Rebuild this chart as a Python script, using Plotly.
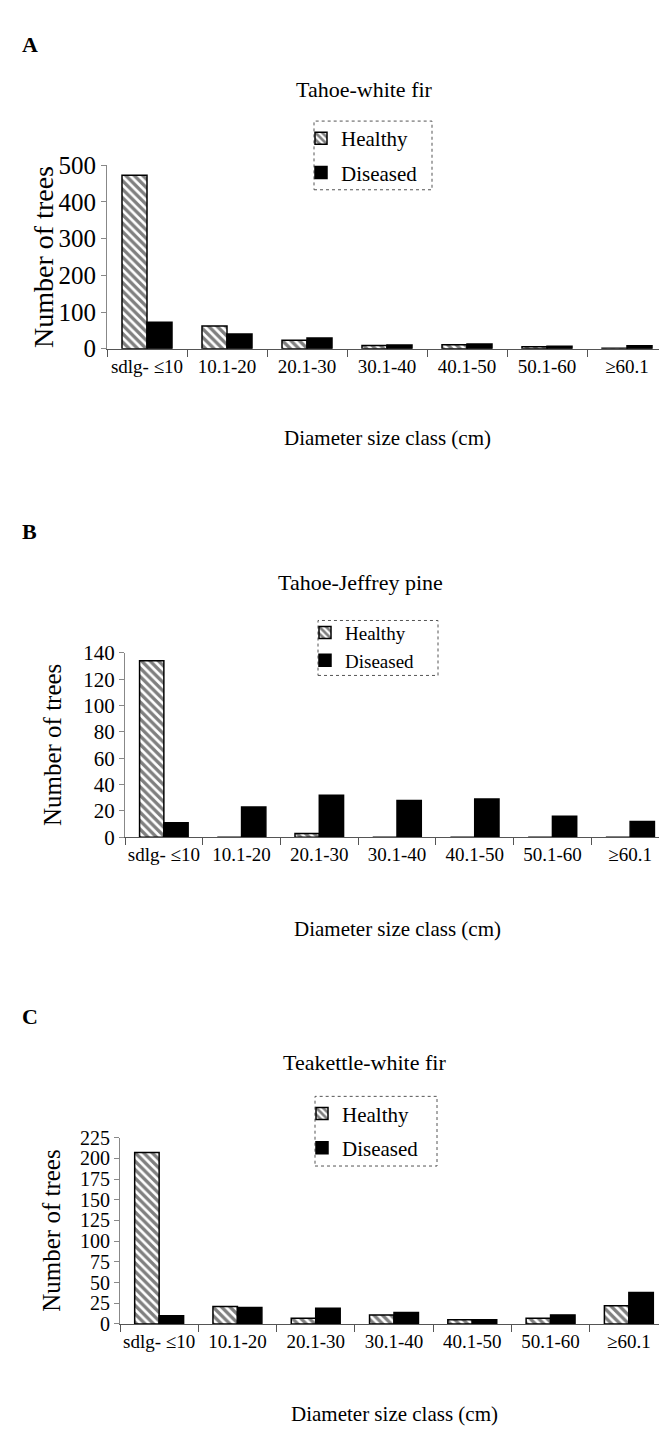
import plotly.graph_objects as go

categories = ["sdlg- ≤10", "10.1-20", "20.1-30", "30.1-40", "40.1-50", "50.1-60", "≥60.1"]

a_healthy = [473, 62, 23, 9, 11, 5, 1]
a_diseased = [72, 40, 29, 10, 13, 7, 8]

b_healthy = [134, 0, 3, 0, 0, 0, 0]
b_diseased = [11, 23, 32, 28, 29, 16, 12]

c_healthy = [207, 21, 7, 11, 5, 7, 22]
c_diseased = [10, 20, 19, 14, 5, 11, 38]

panel_letters = ["A", "B", "C"]
panel_titles = ["Tahoe-white fir", "Tahoe-Jeffrey pine", "Teakettle-white fir"]
y_ticks = [list(range(0, 501, 100)), list(range(0, 141, 20)), list(range(0, 226, 25))]
y_ranges = [[0, 500], [0, 140], [0, 225]]

W, H = 667, 1434
FONT = "Liberation Serif"

# pixel layout of each panel: (x0, x1, ytop, ybottom)
boxes = [(99, 659, 147, 334), (117, 661, 644, 832), (112, 660, 1138, 1328)]
letter_y = [24, 520, 1015]
title_y = [70, 572, 1061]
title_x = [356, 352, 356]
xtitle_y = [425, 925, 1420]
ytitle_x = [36, 44, 44]
ytitle_size = [28, 25, 25]
ytick_size = [25, 21, 20]
legend_box = [(306, 102, 424, 172), (310, 611, 430, 667), (307, 1096, 429, 1167)]
legend_top = [99, 604, 1093]
legend_font = [21, 19, 21]
legend_gap = [4, 0, 4]

fig = go.Figure()
data = [(a_healthy, a_diseased), (b_healthy, b_diseased), (c_healthy, c_diseased)]

for i, (hv, dv) in enumerate(data):
    n = "" if i == 0 else str(i + 1)
    leg = "legend" if i == 0 else "legend" + str(i + 1)
    fig.add_trace(go.Bar(
        x=categories, y=hv, name="Healthy", xaxis="x" + n, yaxis="y" + n, legend=leg,
        legendgroup="h" + n,
        marker=dict(color="white", line=dict(color="black", width=1.5),
                    pattern=dict(shape="\\", fgcolor="black", bgcolor="white", size=6, solidity=0.55)),
    ))
    fig.add_trace(go.Bar(
        x=categories, y=dv, name="Diseased", xaxis="x" + n, yaxis="y" + n, legend=leg,
        legendgroup="d" + n,
        marker=dict(color="black", line=dict(color="black", width=1.5)),
    ))

layout = dict(
    width=W, height=H, margin=dict(l=0, r=0, t=0, b=0),
    paper_bgcolor="white", plot_bgcolor="white",
    barmode="group", bargap=0.375, bargroupgap=0,
    font=dict(family=FONT, color="black", size=18),
    annotations=[], shapes=[],
)

for i in range(3):
    n = "" if i == 0 else str(i + 1)
    x0, x1, yt, yb = boxes[i]
    layout["xaxis" + n] = dict(
        domain=[x0 / W, x1 / W], anchor="y" + n, type="category",
        range=[-0.5, 6.5], showline=True, linecolor="#555", linewidth=1.2,
        ticks="outside", tickson="boundaries", ticklen=7, tickcolor="#555",
        tickangle=0, tickfont=dict(size=19, family=FONT), showgrid=False, fixedrange=True,
    )
    layout["yaxis" + n] = dict(
        domain=[1 - yb / H, 1 - yt / H], anchor="x" + n,
        range=y_ranges[i], tickvals=y_ticks[i], showline=True, linecolor="#888",
        linewidth=1, ticks="outside", ticklen=5, tickcolor="#888",
        tickfont=dict(size=ytick_size[i], family=FONT), showgrid=False, zeroline=False,
        fixedrange=True,
    )
    bx0, by0, bx1, by1 = legend_box[i]
    layout["legend" if i == 0 else "legend" + str(i + 1)] = dict(
        x=(bx0 - 13) / W, y=1 - legend_top[i] / H, xanchor="left", yanchor="top",
        borderwidth=0, bgcolor="rgba(0,0,0,0)", traceorder="grouped",
        font=dict(size=legend_font[i], family=FONT), tracegroupgap=legend_gap[i], itemwidth=30,
    )
    layout["shapes"].append(dict(type="rect", xref="paper", yref="paper",
                                 x0=bx0 / W, x1=bx1 / W, y0=1 - by1 / H, y1=1 - by0 / H,
                                 line=dict(color="#555", width=1, dash="dot"), layer="above"))
    ann = layout["annotations"]
    ann.append(dict(text="<b>" + panel_letters[i] + "</b>", x=12 / W, y=1 - letter_y[i] / H,
                    xref="paper", yref="paper", xanchor="left", yanchor="middle",
                    showarrow=False, font=dict(size=22, family=FONT)))
    ann.append(dict(text=panel_titles[i], x=title_x[i] / W, y=1 - title_y[i] / H,
                    xref="paper", yref="paper", xanchor="center", yanchor="middle",
                    showarrow=False, font=dict(size=22, family=FONT)))
    ann.append(dict(text="Diameter size class (cm)", x=(x0 + x1) / 2 / W, y=1 - xtitle_y[i] / H,
                    xref="paper", yref="paper", xanchor="center", yanchor="middle",
                    showarrow=False, font=dict(size=21, family=FONT)))
    ann.append(dict(text="Number of trees", x=ytitle_x[i] / W, y=1 - ((yt + yb) / 2) / H,
                    xref="paper", yref="paper", xanchor="center", yanchor="middle",
                    textangle=-90, showarrow=False, font=dict(size=ytitle_size[i], family=FONT)))

fig.update_layout(**layout)
fig.write_html("out.html")
